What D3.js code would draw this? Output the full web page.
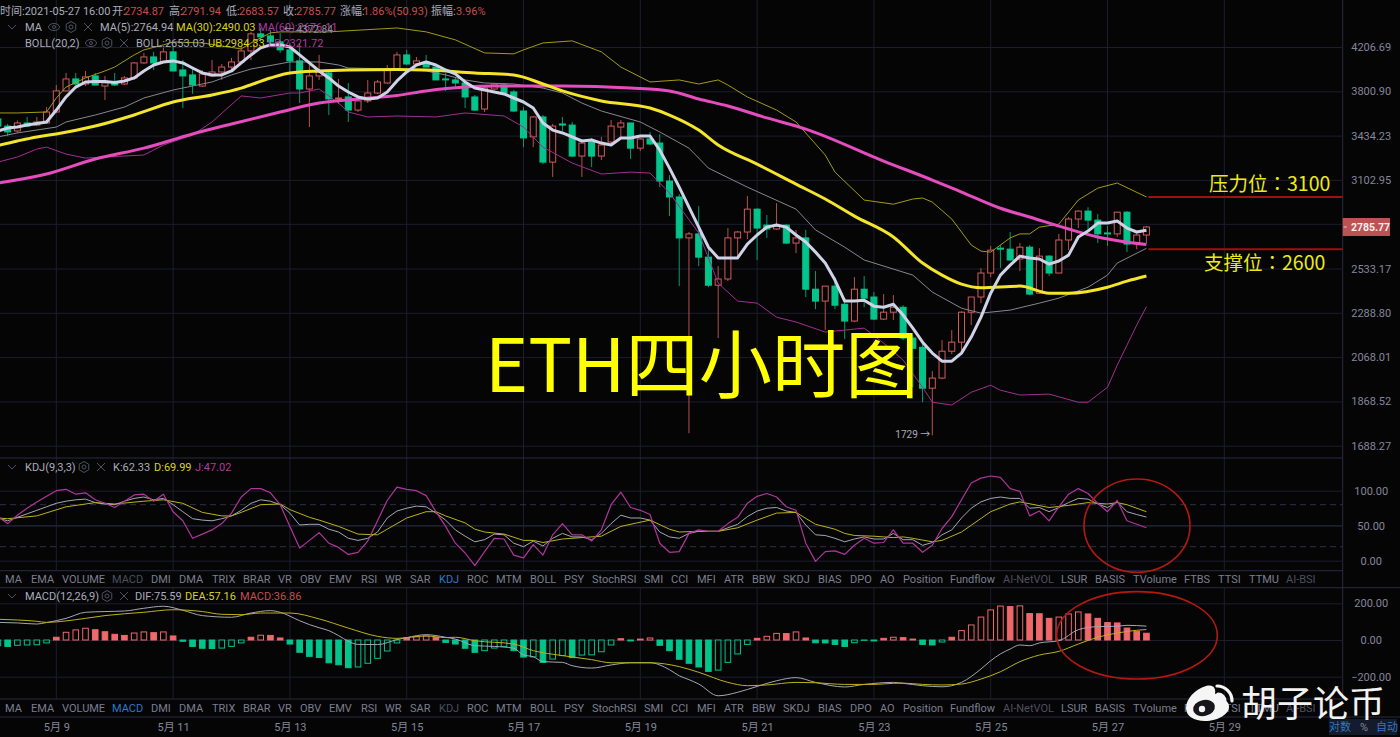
<!DOCTYPE html>
<html>
<head>
<meta charset="utf-8">
<script src="https://cdnjs.cloudflare.com/ajax/libs/d3/7.8.5/d3.min.js"></script>
<style>
  html, body { margin: 0; padding: 0; background: #050506; overflow: hidden; }
  text { font-family: Roboto, "Noto Sans CJK SC", sans-serif; }
</style>
</head>
<body>
<div id="chart"></div>
<script>
// 4h bars, first one is -6 (bar 0 = 5月9日 00:00)
const openVals = [3568,3510,3471,3535,3518,3535,3625,3804,3910,3865,3937,3847,3874,3865,3919,4056,4112,4065,4160,3991,3946,3847,3937,3973,4018,4065,4169,4335,4315,4256,4179,4075,3821,3937,3964,3735,3752,3641,3718,3786,3874,4000,4131,4046,4065,4018,3910,3901,3874,3752,3650,3821,3856,3795,3633,3424,3584,3232,3527,3518,3277,3384,3277,3384,3502,3535,3337,3408,3376,3095,2984,2717,2742,2600,2438,2473,2717,2754,2902,2798,2773,2798,2685,2717,2416,2351,2433,2334,2246,2416,2373,2256,2292,2318,2160,2115,1926,1971,2096,2140,2292,2373,2507,2654,2648,2589,2660,2394,2606,2507,2704,2837,2889,2830,2748,2742,2882,2685,2734.87];
const highVals = [3584,3527,3555,3584,3584,3666,3856,3964,3964,3982,3964,3937,3964,3937,4065,4150,4160,4198,4217,4084,4009,3991,4084,4046,4103,4207,4355,4394,4374,4345,4246,4246,4037,4131,3982,3910,3874,3752,3901,3901,4037,4160,4179,4112,4131,4037,3964,3928,3901,3769,3856,3874,3874,3812,3666,3592,3600,3527,3584,3543,3384,3416,3424,3559,3559,3535,3416,3463,3447,3138,3004,2754,2922,2673,2547,2779,2760,2990,2908,2863,2942,2804,2767,2767,2518,2433,2484,2367,2484,2490,2400,2389,2383,2329,2175,2140,2003,2150,2200,2297,2373,2535,2667,2673,2754,2685,2673,2654,2612,2742,2850,2895,2915,2869,2792,2882,2889,2748,2791.94];
const lowVals = [3502,3431,3455,3502,3510,3535,3617,3804,3829,3847,3856,3726,3847,3856,3901,4046,3991,4056,3982,3658,3778,3838,3928,3901,3973,4056,4084,4256,4217,4150,3955,3700,3502,3901,3600,3692,3543,3625,3700,3778,3865,3991,4037,4027,4018,3901,3804,3838,3658,3633,3625,3812,3778,3625,3345,3345,3217,3124,3471,3270,3124,3195,3247,3361,3424,3255,3315,3361,3052,2856,2433,1737,2547,2427,2160,2461,2595,2710,2583,2717,2767,2679,2624,2373,2308,2200,2308,2155,2241,2318,2251,2251,2251,2150,1930,1865,1729,1966,2082,2096,2225,2340,2484,2535,2577,2518,2383,2389,2490,2507,2642,2779,2760,2685,2667,2723,2630,2648,2683.57];
const closeVals = [3510,3463,3535,3510,3543,3625,3804,3910,3865,3928,3856,3874,3856,3919,4056,4112,4056,4160,3982,3937,3856,3955,3973,4018,4065,4169,4335,4305,4256,4179,4075,3821,3937,3973,3735,3743,3641,3718,3786,3883,4000,4131,4046,4075,4018,3901,3901,3874,3752,3641,3829,3865,3786,3633,3416,3584,3232,3510,3518,3277,3376,3277,3361,3510,3535,3337,3408,3369,3095,2984,2717,2742,2600,2438,2473,2717,2754,2902,2779,2773,2792,2685,2717,2416,2351,2433,2329,2246,2416,2367,2256,2292,2318,2160,2110,1926,1971,2096,2140,2292,2373,2507,2642,2648,2583,2660,2389,2606,2507,2704,2837,2889,2830,2742,2742,2882,2679,2735,2785.77];

const ma5Vals = [3471,3494,3502,3518,3531,3543,3641,3752,3838,3883,3887,3887,3878,3892,3919,3982,4037,4065,4075,4056,4009,3964,3946,3946,3982,4056,4131,4198,4227,4227,4207,4131,4056,3982,3919,3847,3795,3752,3735,3743,3795,3892,3973,4037,4065,4037,3991,3955,3883,3829,3812,3795,3778,3743,3709,3658,3535,3478,3455,3424,3392,3400,3376,3361,3416,3416,3431,3431,3322,3188,3052,2915,2785,2660,2595,2595,2595,2679,2735,2785,2798,2785,2735,2692,2630,2565,2467,2351,2351,2356,2324,2318,2334,2277,2210,2140,2087,2049,2049,2087,2165,2266,2394,2495,2553,2606,2595,2589,2559,2577,2612,2723,2760,2811,2811,2824,2779,2754,2764.94];
// [bar, value] vertices of the smoother lines
const ma30Vals = [[-6,3357],[-4,3392],[-2,3424],[0,3447],[4,3510],[8,3600],[12,3709],[16,3769],[19,3829],[22,3919],[24,3964],[27,3982],[30,3991],[35,3996],[38,3991],[43,3964],[47,3946],[50,3865],[52,3804],[56,3718],[61,3658],[63,3600],[66,3478],[68,3361],[72,3217],[76,3073],[79,2970],[82,2856],[86,2723],[89,2565],[91,2495],[93,2444],[95,2424],[99,2433],[102,2394],[104,2394],[108,2427],[110,2461],[112,2490]];
const ma60Vals = [[-6,3081],[-1,3145],[4,3255],[9,3337],[14,3447],[18,3527],[23,3625],[27,3700],[31,3735],[35,3765],[38,3804],[42,3838],[45,3847],[52,3847],[59,3829],[63,3804],[66,3735],[69,3675],[73,3576],[77,3486],[85,3240],[90,3102],[93,3018],[97,2908],[100,2850],[104,2773],[107,2723],[112,2676]];
const bollVals = [[-6,3424],[-4,3455],[0,3502],[1,3543],[4,3600],[7,3666],[9,3743],[12,3812],[16,3883],[18,3946],[20,4000],[24,4065],[27,4065],[29,4037],[30,4009],[35,4000],[38,3982],[40,3946],[42,3901],[44,3874],[47,3865],[50,3829],[52,3786],[54,3700],[56,3633],[60,3543],[62,3463],[65,3337],[67,3188],[71,3052],[76,2902],[78,2767],[81,2660],[83,2583],[88,2495],[90,2400],[93,2313],[95,2287],[98,2303],[101,2340],[103,2367],[106,2427],[108,2495],[109,2565],[112,2653]];
const ubVals = [[-6,3617],[-4,3617],[-1,3625],[0,3743],[1,3838],[3,3919],[5,3982],[6,4018],[8,4131],[9,4179],[11,4227],[12,4256],[15,4246],[19,4188],[20,4246],[22,4345],[23,4355],[28,4355],[35,4394],[38,4355],[41,4276],[44,4150],[47,4141],[48,4179],[50,4246],[53,4266],[56,4160],[58,4018],[61,3883],[64,3901],[66,3865],[68,3901],[69,3856],[71,3752],[74,3641],[76,3543],[79,3285],[80,3159],[83,2963],[86,2935],[88,2970],[89,2977],[90,2949],[92,2837],[94,2673],[95,2636],[96,2630],[98,2717],[99,2742],[100,2742],[101,2785],[103,2804],[105,2963],[107,3045],[109,3081],[112,2984]];
const lbVals = [[-6,3232],[-4,3270],[-2,3330],[-1,3345],[1,3292],[3,3262],[5,3270],[9,3285],[11,3361],[14,3439],[16,3543],[19,3761],[21,3743],[24,3786],[25,3786],[27,3821],[29,3700],[30,3625],[32,3584],[35,3592],[39,3584],[42,3617],[46,3592],[48,3502],[50,3345],[53,3225],[56,3145],[59,3159],[61,3152],[63,3011],[66,2748],[68,2450],[70,2351],[72,2340],[74,2266],[76,2241],[79,2190],[83,2210],[85,2135],[87,2054],[89,1930],[90,1865],[92,1853],[94,1908],[96,1939],[97,1917],[99,1896],[102,1900],[105,1865],[106,1865],[108,1930],[109,2030],[110,2125],[111,2225],[112,2321]];

const kVals = [61,57,62,67,72,77,82,85,87,88,83,81,80,85,89,91,87,89,80,70,60,58,57,60,64,72,82,87,85,80,68,51,52,52,45,41,32,29,32,41,61,71,75,78,77,68,58,44,35,27,30,38,37,25,20,28,21,32,39,34,34,30,39,53,65,61,61,58,41,34,32,39,42,42,42,47,52,63,71,75,76,71,69,51,37,36,32,27,31,34,31,31,39,30,30,22,26,37,44,61,75,84,89,91,89,89,75,76,70,76,83,89,88,81,76,84,70,66,62.33];
const dVals = [[-6,61],[-5,60],[-2,64],[1,77],[3,81],[4,83],[6,81],[9,85],[11,87],[13,82],[15,69],[17,64],[18,64],[19,69],[21,80],[23,81],[24,73],[26,62],[27,58],[29,49],[31,38],[33,37],[34,45],[36,61],[38,70],[39,70],[40,64],[42,54],[43,45],[44,41],[46,38],[48,29],[49,29],[50,26],[52,31],[54,33],[56,35],[58,49],[61,58],[63,45],[64,41],[66,42],[68,42],[70,47],[72,58],[74,68],[76,69],[78,52],[80,45],[81,39],[82,36],[84,35],[86,33],[87,34],[88,32],[90,27],[91,29],[93,41],[96,70],[98,81],[99,84],[102,76],[104,79],[106,83],[108,81],[109,83],[110,80],[112,69.99]];
const jVals = [63,53,65,75,84,92,100,102,95,97,87,82,76,85,94,95,85,95,70,57,32,38,44,53,68,91,103,103,97,80,49,18,29,40,25,19,9,12,28,57,86,105,102,100,93,70,49,25,11,-7,13,32,31,8,4,23,8,37,53,37,37,28,44,80,98,76,72,66,25,12,13,39,44,42,42,53,62,82,92,96,91,77,72,25,-1,13,14,9,22,32,25,26,44,25,25,12,22,46,63,87,111,118,121,119,103,99,64,71,57,77,95,103,96,82,70,86,57,52,47.02];

const histVals = [-31,-35,-29,-27,-26,-16,15,42,55,64,56,45,31,25,38,44,40,44,22,-7,-35,-45,-46,-44,-35,-16,15,26,25,11,-22,-67,-89,-95,-124,-135,-151,-147,-127,-100,-60,-16,13,18,22,13,-13,-22,-45,-67,-58,-44,-35,-58,-93,-92,-122,-104,-85,-96,-82,-81,-64,-27,7,-5,5,11,-29,-58,-105,-127,-147,-171,-164,-122,-76,-24,9,20,36,35,44,11,-15,-16,-24,-35,-15,-2,-5,9,15,13,5,-24,-27,-11,15,51,82,125,164,185,182,186,144,143,118,125,142,153,142,118,95,93,65,47,36.86];
const difVals = [[-6,96],[-4,93],[-2,87],[-1,95],[1,118],[3,151],[5,155],[7,158],[9,173],[11,184],[13,162],[15,133],[18,124],[20,147],[22,160],[23,151],[25,105],[26,84],[27,67],[28,51],[29,24],[30,-7],[31,-24],[33,-25],[35,2],[36,13],[38,29],[40,15],[41,5],[43,-31],[45,-35],[47,-45],[48,-82],[49,-91],[50,-118],[52,-122],[53,-140],[55,-153],[57,-136],[59,-124],[61,-124],[63,-162],[64,-195],[65,-216],[66,-240],[68,-304],[70,-285],[72,-253],[74,-222],[76,-205],[78,-231],[81,-256],[83,-242],[86,-231],[87,-236],[89,-249],[91,-255],[93,-231],[95,-158],[96,-113],[97,-76],[98,-49],[99,-27],[100,-31],[101,-16],[103,-4],[105,56],[107,73],[109,75],[110,80],[112,75.59]];
const deaVals = [[-6,113],[-4,109],[-2,102],[-1,96],[1,104],[3,118],[5,133],[9,151],[12,165],[15,155],[17,140],[19,138],[21,147],[24,147],[27,115],[30,65],[33,20],[35,9],[38,22],[40,13],[41,15],[43,-4],[47,-22],[49,-58],[52,-85],[55,-107],[57,-124],[61,-124],[64,-145],[66,-176],[69,-231],[71,-249],[73,-245],[76,-231],[78,-233],[81,-242],[84,-242],[86,-236],[87,-235],[89,-242],[91,-245],[93,-240],[95,-213],[97,-173],[99,-118],[101,-82],[103,-62],[105,-22],[107,15],[109,38],[111,53],[112,57.16]];

const priceTicks = [4206.69, 3800.90, 3434.23, 3102.95, 2806.0, 2533.17, 2288.80, 2068.01, 1868.52, 1688.27];
const kdjTicks = [100, 50, 0];
const macdTicks = [200, 0, -200];
const lastPrice = 2785.77;
const resistanceLevel = 2984;
const supportLevel = 2648;
const lowMark = 1729;
const highMark = 4372.84;
const tabNames = ["MA","EMA","VOLUME","MACD","DMI","DMA","TRIX","BRAR","VR","OBV","EMV","RSI","WR","SAR","KDJ","ROC","MTM","BOLL","PSY","StochRSI","SMI","CCI","MFI","ATR","BBW","SKDJ","BIAS","DPO","AO","Position","Fundflow","AI-NetVOL","LSUR","BASIS","TVolume","FTBS","TTSI","TTMU","AI-BSI"];
const tabStarts = [5,31,62,112,151,179,212,243,278,300,329,361,385,410,439,467,496,530,564,592,644,671,697,724,752,783,818,850,880,903,950,1003,1061,1095,1133,1184,1218,1249,1286];

const width = 1400, height = 737;
const plotRight = 1342.7;
const gridColor = "#1c1d2e", sepColor = "#2a2b42", axisColor = "#83869a";
const downColor = "#03c58c";
const bars = d3.range(-6, 113);

const svg = d3.select("#chart").append("svg")
    .attr("width", width).attr("height", height)
    .style("display", "block");

svg.append("rect").attr("width", width).attr("height", height).attr("fill", "#050506");

const barTime = b => new Date(Date.UTC(2021, 4, 9) + b * 4 * 3600 * 1000);
const x = d3.scaleUtc()
    .domain([new Date(Date.UTC(2021, 4, 9)), new Date(Date.UTC(2021, 4, 29))])
    .range([56.3, 1224.3]);
const xb = b => x(barTime(b));

const yMain = d3.scaleLog().domain([1688.27, 4206.69]).range([445.7, 47]);
const yKdj = d3.scaleLinear().domain([0, 100]).range([560.7, 490.7]);
const yMacd = d3.scaleLinear().domain([-200, 200]).range([676.7, 603.3]);

svg.append("defs").append("clipPath").attr("id", "plotClip")
    .append("rect").attr("x", 0).attr("y", 0).attr("width", plotRight).attr("height", height);

// panels: vertical grid, then horizontal grid through the axis
const dayTicks = d3.utcDay.every(2).range(new Date(Date.UTC(2021, 4, 9)), new Date(Date.UTC(2021, 4, 30)));
[[0, 458], [458, 570.7], [588, 699]].forEach(function(p) {
    svg.append("g").selectAll("line").data(dayTicks).enter().append("line")
        .attr("x1", d => x(d)).attr("x2", d => x(d))
        .attr("y1", p[0]).attr("y2", p[1])
        .attr("stroke", gridColor);
});
[458, 570.7, 587.7, 699, 717].forEach(function(yy) {
    svg.append("line").attr("x1", 0).attr("x2", yy === 717 || yy === 587.7 ? width : plotRight)
        .attr("y1", yy).attr("y2", yy).attr("stroke", sepColor);
});
svg.append("line").attr("x1", plotRight).attr("x2", plotRight).attr("y1", 0).attr("y2", 699).attr("stroke", sepColor);

function rightAxis(scale, ticks, fmt) {
    const g = svg.append("g").attr("transform", "translate(" + plotRight + ",0)")
        .call(d3.axisRight(scale).tickValues(ticks).tickSize(-plotRight).tickFormat(fmt));
    g.select("path.domain").remove();
    g.selectAll("g.tick line").attr("stroke", gridColor);
    g.selectAll("g.tick text")
        .attr("x", 28.5).attr("text-anchor", "middle")
        .style("font-size", "11px").attr("fill", axisColor);
    return g;
}
rightAxis(yMain, priceTicks, d => d === 2806 ? "" : d3.format(".2f")(d));
rightAxis(yKdj, kdjTicks, d3.format(".2f"));
rightAxis(yMacd, macdTicks, d3.format(".2f"));

// KDJ levels
[80, 20].forEach(function(v) {
    svg.append("line").attr("x1", 0).attr("x2", plotRight)
        .attr("y1", yKdj(v)).attr("y2", yKdj(v))
        .attr("stroke", "#2f3048").attr("stroke-dasharray", "6,4");
});
svg.append("line").attr("x1", 0).attr("x2", plotRight)
    .attr("y1", yKdj(50)).attr("y2", yKdj(50)).attr("stroke", "#222338");

const plot = svg.append("g").attr("clip-path", "url(#plotClip)");

// candles
const candles = plot.append("g").selectAll("g").data(bars).enter().append("g");
const isUp = (d, i) => closeVals[i] >= openVals[i];
candles.append("line")
    .attr("x1", d => xb(d)).attr("x2", d => xb(d))
    .attr("y1", (d, i) => yMain(highVals[i]))
    .attr("y2", (d, i) => yMain(lowVals[i]))
    .attr("stroke", (d, i) => isUp(d, i) ? "#b85050" : "#049a6e");
candles.append("rect")
    .attr("x", d => xb(d) - 3)
    .attr("width", 6)
    .attr("y", (d, i) => yMain(Math.max(openVals[i], closeVals[i])))
    .attr("height", (d, i) => Math.max(1, yMain(Math.min(openVals[i], closeVals[i])) - yMain(Math.max(openVals[i], closeVals[i]))))
    .attr("fill", (d, i) => isUp(d, i) ? "#050506" : downColor)
    .attr("stroke", (d, i) => isUp(d, i) ? "#d45a5a" : downColor)
    .attr("stroke-width", 1);

const withBars = vals => vals.map((v, i) => [bars[i], v]);

function addLine(g, data, scale, color, w, curve) {
    const line = d3.line().x(d => xb(d[0])).y(d => scale(d[1])).curve(curve || d3.curveLinear);
    g.append("path").datum(data)
        .attr("d", line)
        .attr("fill", "none").attr("stroke", color).attr("stroke-width", w)
        .attr("stroke-linejoin", "round");
}

addLine(plot, bollVals, yMain, "#85868f", 1);
addLine(plot, ubVals, yMain, "#a39a12", 1);
addLine(plot, lbVals, yMain, "#a02f8e", 1);
addLine(plot, ma60Vals, yMain, "#e54cbe", 3, d3.curveMonotoneX);
addLine(plot, ma30Vals, yMain, "#f4e52a", 3, d3.curveMonotoneX);
addLine(plot, withBars(ma5Vals), yMain, "#cfd3e8", 3);

// KDJ
addLine(plot, withBars(kVals), yKdj, "#a4a6b4", 1);
addLine(plot, dVals, yKdj, "#bdb11a", 1);
addLine(plot, withBars(jVals), yKdj, "#b0359c", 1.2);

// MACD histogram, hollow while the bar is growing back
const histUpFill = "#f0686a", histDownFill = "#03c58c";
plot.append("g").selectAll("rect").data(bars).enter().append("rect")
    .attr("x", d => xb(d) - 2.8)
    .attr("width", 5.6)
    .attr("y", (d, i) => yMacd(Math.max(0, histVals[i])))
    .attr("height", (d, i) => Math.abs(yMacd(histVals[i]) - yMacd(0)))
    .attr("fill", function(d, i) {
        const v = histVals[i], prev = i > 0 ? histVals[i - 1] : v - 1;
        const hollow = v >= 0 ? v > prev && prev >= 0 : v > prev;
        return hollow ? "#050506" : (v >= 0 ? histUpFill : histDownFill);
    })
    .attr("stroke", (d, i) => histVals[i] >= 0 ? histUpFill : histDownFill);
addLine(plot, difVals, yMacd, "#a4a6b4", 1, d3.curveMonotoneX);
addLine(plot, deaVals, yMacd, "#bdb11a", 1, d3.curveMonotoneX);

// tab rows
function tabRow(yy, active, dim) {
    svg.append("g").selectAll("text").data(tabNames).enter().append("text")
        .attr("x", (d, i) => tabStarts[i]).attr("y", yy)
        .style("font-size", "11px")
        .attr("fill", d => d === active ? "#2f78c8" : (dim.includes(d) ? "#4d4f60" : "#7b7e90"))
        .text(d => d);
}
tabRow(583, "KDJ", ["MACD", "AI-NetVOL", "AI-BSI"]);
tabRow(712, "MACD", ["KDJ", "AI-NetVOL", "AI-BSI"]);

// time axis
const timeAxis = svg.append("g").attr("transform", "translate(0,717)")
    .call(d3.axisBottom(x).tickValues(dayTicks).tickSize(0).tickFormat(d => "5月 " + d.getUTCDate()));
timeAxis.select("path.domain").remove();
timeAxis.selectAll("text").attr("y", 6).style("font-size", "11px").attr("fill", axisColor);

// bottom right toggles
svg.append("rect").attr("x", 1329).attr("y", 719).attr("width", 68).attr("height", 16).attr("fill", "#141b2b");
[["对数", 1340, "#2f78c8"], ["%", 1364, "#83869a"], ["自动", 1387, "#2f78c8"]].forEach(function(t) {
    svg.append("text").attr("x", t[1]).attr("y", 731).attr("text-anchor", "middle")
        .style("font-size", "11px").attr("fill", t[2]).text(t[0]);
});

// header and legends
const labelColor = "#a9acbc", redText = "#c24f4f", yellowText = "#d8d020", pinkText = "#b03a9c";
function legend(yy, parts) {
    const t = svg.append("text").attr("y", yy).style("font-size", "11px");
    parts.forEach(function(p) {
        t.append("tspan").attr("fill", p[1]).attr("x", p[2]).text(p[0]);
    });
}
legend(15, [["时间:2021-05-27 16:00", labelColor, 0], ["开:", labelColor, 112], ["2734.87", redText, 124], ["高:", labelColor, 169], ["2791.94", redText, 181], ["低:", labelColor, 226], ["2683.57", redText, 239], ["收:", labelColor, 283], ["2785.77", redText, 296], ["涨幅:", labelColor, 340], ["1.86%(50.93)", redText, 363], ["振幅:", labelColor, 431], ["3.96%", redText, 456]]);
legend(31, [["MA", labelColor, 25], ["MA(5):2764.94", labelColor, 100], ["MA(30):2490.03", yellowText, 176], ["MA(60):2676.11", pinkText, 258]]);
legend(47, [["BOLL(20,2)", labelColor, 25], ["BOLL:2653.03", labelColor, 136], ["UB:2984.33", yellowText, 208], ["LB:2321.72", pinkText, 268]]);
legend(471, [["KDJ(9,3,3)", labelColor, 25], ["K:62.33", labelColor, 113], ["D:69.99", yellowText, 154], ["J:47.02", pinkText, 195]]);
legend(600, [["MACD(12,26,9)", labelColor, 25], ["DIF:75.59", labelColor, 135], ["DEA:57.16", yellowText, 185], ["MACD:36.86", redText, 240]]);

// little legend icons
const iconColor = "#4f5163";
function chevron(cx, cy) {
    svg.append("path").attr("d", "M" + (cx - 4) + "," + (cy - 2) + "l4,4l4,-4").attr("fill", "none").attr("stroke", iconColor);
}
function eye(cx, cy) {
    svg.append("ellipse").attr("cx", cx).attr("cy", cy).attr("rx", 5.5).attr("ry", 3.5).attr("fill", "none").attr("stroke", iconColor);
    svg.append("circle").attr("cx", cx).attr("cy", cy).attr("r", 1.5).attr("fill", "none").attr("stroke", iconColor);
}
function gear(cx, cy) {
    const hex = d3.range(6).map(i => [cx + 5.5 * Math.sin(i * Math.PI / 3), cy + 5.5 * Math.cos(i * Math.PI / 3)]);
    svg.append("path").attr("d", d3.line()(hex) + "Z").attr("fill", "none").attr("stroke", iconColor);
    svg.append("circle").attr("cx", cx).attr("cy", cy).attr("r", 2).attr("fill", "none").attr("stroke", iconColor);
}
function cross(cx, cy) {
    svg.append("path").attr("d", "M" + (cx - 4) + "," + (cy - 4) + "l8,8M" + (cx + 4) + "," + (cy - 4) + "l-8,8").attr("stroke", iconColor);
}
chevron(12, 27); eye(54, 27); gear(71, 27); cross(88, 27);
eye(91, 43); gear(107, 43); cross(124, 43);
chevron(12, 467); gear(84, 467); cross(101, 467);
chevron(12, 596); gear(107, 596); cross(124, 596);

// price extremes
svg.append("text").attr("x", xb(90) - 2).attr("y", yMain(lowMark) + 3).attr("text-anchor", "end")
    .style("font-size", "10px").attr("fill", "#a9acbc").text("1729 →");
svg.append("text").attr("x", 284).attr("y", 33)
    .style("font-size", "10px").attr("fill", "#8d8e9c").text("← " + highMark);

// last price tag
const tagY = yMain(lastPrice);
svg.append("rect").attr("x", plotRight).attr("y", tagY - 9).attr("width", 47.3).attr("height", 18).attr("fill", "#bd5252");
svg.append("line").attr("x1", plotRight + 1).attr("x2", plotRight + 4).attr("y1", tagY).attr("y2", tagY).attr("stroke", "#e8c8c8");
svg.append("text").attr("x", 1370.5).attr("y", tagY + 4).attr("text-anchor", "middle")
    .style("font-size", "10.5px").style("font-weight", "700").attr("fill", "#f4f0f0").text(d3.format(".2f")(lastPrice));

// support / resistance drawn on the picture
[resistanceLevel, supportLevel].forEach(function(v) {
    svg.append("line").attr("x1", xb(112) + 2).attr("x2", plotRight)
        .attr("y1", yMain(v)).attr("y2", yMain(v))
        .attr("stroke", "#a30f0c").attr("stroke-width", 2);
});
const cjk = '"Noto Sans CJK SC", sans-serif';
function levelNote(xx, yy, head, val) {
    const t = svg.append("text").attr("x", xx).attr("y", yy).style("font-family", cjk).style("font-size", "19.5px").attr("fill", "#ecec12");
    t.append("tspan").text(head);
    t.append("tspan").style("font-family", '"Noto Sans CJK TC", sans-serif').text("：");
    t.append("tspan").text(val);
}
levelNote(1209, 191, "压力位", "3100");
levelNote(1204, 270, "支撑位", "2600");
svg.append("text").attr("x", 485).attr("y", 392).style("font-family", cjk).style("font-size", "73.3px").attr("fill", "#ffff00").text("ETH四小时图");

// hand drawn ellipses
[[1137, 525.7, 53, 46.7], [1137, 635.3, 80.3, 43.7]].forEach(function(e) {
    svg.append("ellipse").attr("cx", e[0]).attr("cy", e[1]).attr("rx", e[2]).attr("ry", e[3])
        .attr("fill", "none").attr("stroke", "#b21a10").attr("stroke-width", 1.6);
});

// weibo mark
const logo = svg.append("g");
logo.append("path").attr("d", "M1186,708c0,-9 9,-19 20,-22c8,-2 10,3 9,8c6,-2 10,1 9,6c3,1 5,3 5,7c0,7 -11,14 -24,14c-11,0 -19,-5 -19,-13Z").attr("fill", "#f5f5f5");
logo.append("ellipse").attr("cx", 1204).attr("cy", 708).attr("rx", 11).attr("ry", 8).attr("transform", "rotate(-12 1204 708)").attr("fill", "#15151a");
logo.append("circle").attr("cx", 1202).attr("cy", 709).attr("r", 3.2).attr("fill", "#f5f5f5");
logo.append("path").attr("d", "M1217,686a15,15 0 0 1 15,15").attr("fill", "none").attr("stroke", "#f5f5f5").attr("stroke-width", 3.2).attr("stroke-linecap", "round");
logo.append("path").attr("d", "M1218,694a7,7 0 0 1 7,7").attr("fill", "none").attr("stroke", "#f5f5f5").attr("stroke-width", 3).attr("stroke-linecap", "round");
svg.append("text").attr("x", 1241).attr("y", 717).style("font-family", cjk).style("font-size", "36px").attr("fill", "#f2f2f2").text("胡子论币");
</script>
</body>
</html>
